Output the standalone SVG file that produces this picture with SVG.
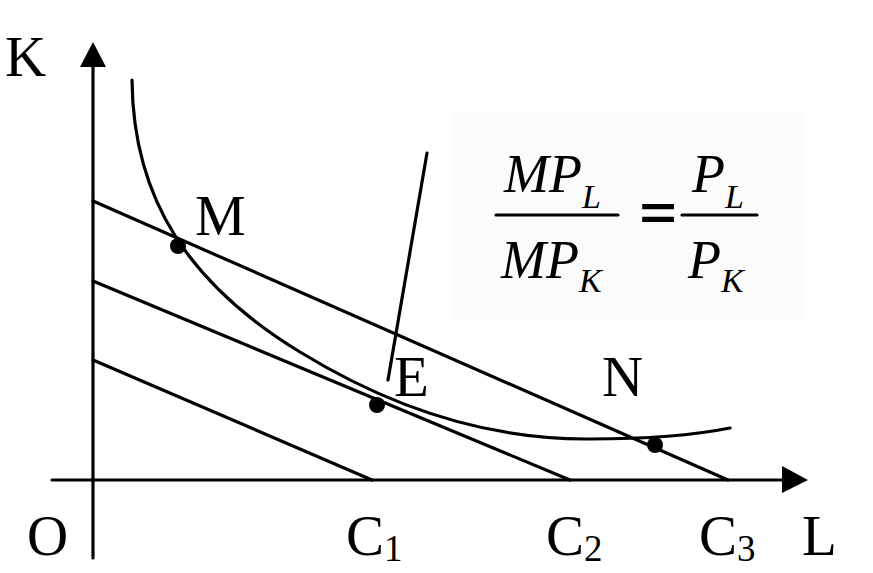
<svg xmlns="http://www.w3.org/2000/svg" width="873" height="573" viewBox="0 0 873 573">
<style>
.ln{stroke:#000;stroke-width:3.2;fill:none;stroke-linecap:round}
.lb{font-family:"Liberation Serif",serif;font-size:57px;fill:#000}
.sub{font-size:37px}
.fm{font-family:"Liberation Serif",serif;font-style:italic;font-size:54px;fill:#000}
.fs{font-size:34px}
.eq{font-family:"Liberation Serif",serif;font-size:64px;fill:#000;stroke:#000;stroke-width:2}
.dot{fill:#000}
</style>
<rect width="873" height="573" fill="#fff"/>
<g id="formula">
<rect x="453" y="112" width="350" height="208" fill="#fbfbfb"/>
<text class="fm" x="504" y="192">MP<tspan class="fs" dy="16">L</tspan></text>
<line class="ln" x1="496" y1="215" x2="618" y2="215" stroke-linecap="butt"/>
<text class="fm" x="501" y="278">MP<tspan class="fs" dy="14">K</tspan></text>
<text class="eq" x="640" y="234">=</text>
<line class="ln" x1="682" y1="215" x2="757" y2="215" stroke-linecap="butt"/>
<text class="fm" x="692" y="192">P<tspan class="fs" dy="16">L</tspan></text>
<text class="fm" x="688" y="278">P<tspan class="fs" dy="14">K</tspan></text>
</g>
<g id="connectors">
<line class="ln" x1="93" y1="558" x2="93" y2="60"/>
<polygon points="80,67 106,67 93,42" fill="#000"/>
<line class="ln" x1="52" y1="480" x2="790" y2="480"/>
<polygon points="782,466 782,493 808,480" fill="#000"/>
<line class="ln" x1="93" y1="360" x2="372" y2="480"/>
<line class="ln" x1="93" y1="281" x2="570" y2="480"/>
<line class="ln" x1="93" y1="201" x2="728" y2="480"/>
<path class="ln" d="M132,80 C133,200 190,285 300,352 C370,395 470,440 590,439 C650,439 700,434 730,428"/>
<line class="ln" x1="427" y1="153" x2="388" y2="380"/>
</g>
<g id="points">
<circle class="dot" cx="178" cy="246" r="8"/>
<circle class="dot" cx="377" cy="405" r="8"/>
<circle class="dot" cx="655" cy="445" r="8"/>
</g>
<g id="labels">
<text class="lb" x="5" y="76">K</text>
<text class="lb" x="195" y="235">M</text>
<text class="lb" x="394" y="396">E</text>
<text class="lb" x="602" y="396">N</text>
<text class="lb" x="27" y="555">O</text>
<text class="lb" x="346" y="555">C<tspan class="sub" dy="6">1</tspan></text>
<text class="lb" x="546" y="555">C<tspan class="sub" dy="6">2</tspan></text>
<text class="lb" x="699" y="555">C<tspan class="sub" dy="6">3</tspan></text>
<text class="lb" x="802" y="555">L</text>
</g>
</svg>
